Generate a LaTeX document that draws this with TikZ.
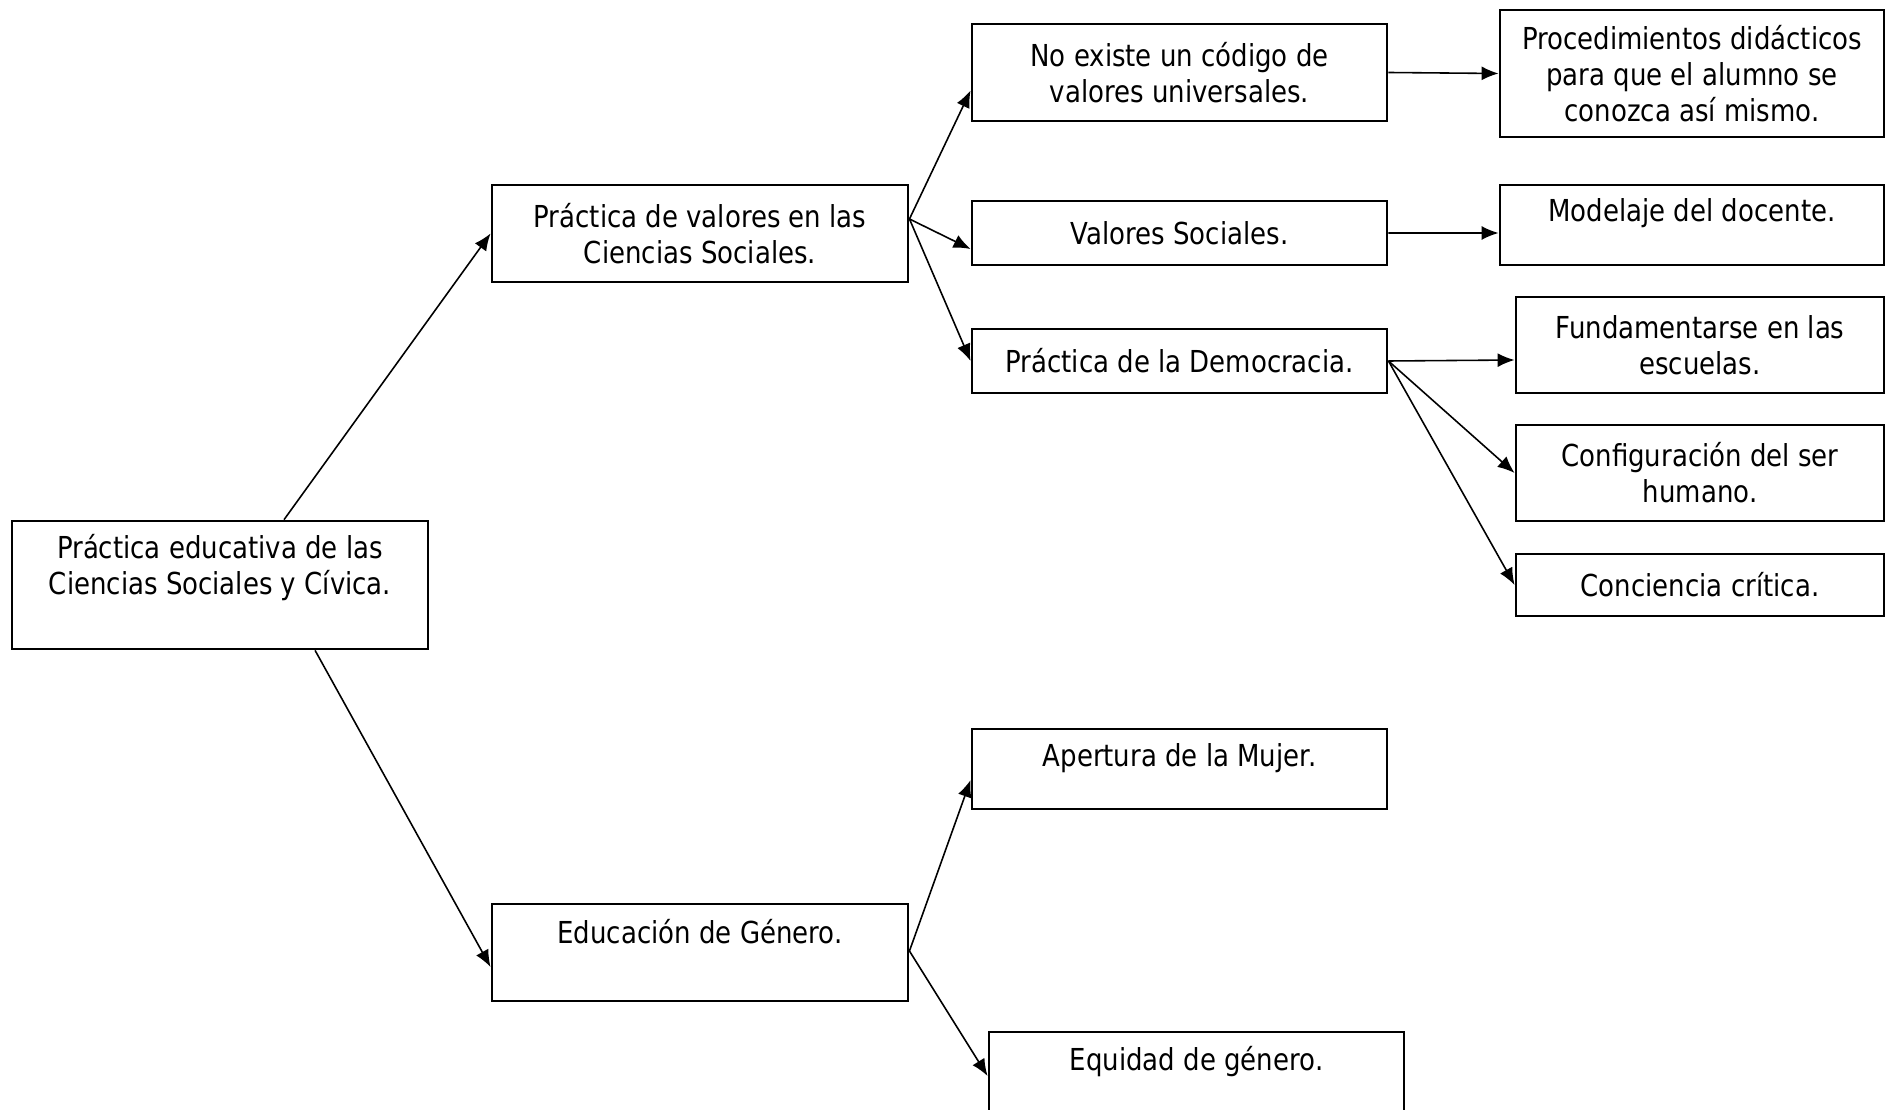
\documentclass[tikz,border=0pt]{standalone}
\usepackage{fontspec}
\setmainfont{DejaVu Sans}[FakeStretch=0.86]
\usepackage{tikz}
\usetikzlibrary{arrows.meta,positioning}
\tikzset{caja/.style={draw=black, line width=0.75pt, rectangle, align=center, inner sep=2pt,
                      font=\fontsize{8.6}{10.3}\selectfont},
         flecha/.style={line width=0.45pt, -{Latex[length=0.17cm,width=0.14cm]}},
         lift/.style={text depth=#1}}

\begin{document}
\begin{tikzpicture}[x=0.01cm,y=-0.01cm]
\useasboundingbox (0,0) rectangle (1895,1110);

\node[caja, minimum width=4.16cm, minimum height=1.28cm, lift=0.41cm] (raiz) at (220,585) {Práctica educativa de las\\Ciencias Sociales y Cívica.};

\node[caja, minimum width=4.16cm, minimum height=0.97cm] (valpr) at (700,233.5) {Práctica de valores en las\\Ciencias Sociales.};
\node[caja, minimum width=4.16cm, minimum height=0.97cm, lift=0.43cm] (genero) at (700,952.5) {Educación de Género.};

\node[caja, minimum width=4.15cm, minimum height=0.97cm] (nocod) at (1179.5,72.5) {No existe un código de\\valores universales.};
\node[caja, minimum width=4.15cm, minimum height=0.64cm] (valsoc) at (1179.5,233) {Valores Sociales.};
\node[caja, minimum width=4.15cm, minimum height=0.64cm] (demo) at (1179.5,361) {Práctica de la Democracia.};
\node[caja, minimum width=4.15cm, minimum height=0.80cm, lift=0.27cm] (apert) at (1179.5,769) {Apertura de la Mujer.};
\node[caja, minimum width=4.15cm, minimum height=0.80cm, lift=0.27cm] (equid) at (1196.5,1072) {Equidad de género.};

\node[caja, minimum width=3.84cm, minimum height=1.27cm] (proc) at (1692,73.5) {Procedimientos didácticos\\para que el alumno se\\conozca así mismo.};
\node[caja, minimum width=3.84cm, minimum height=0.80cm, lift=0.29cm] (model) at (1692,225) {Modelaje del docente.};
\node[caja, minimum width=3.68cm, minimum height=0.96cm] (fund) at (1700,345) {Fundamentarse en las\\escuelas.};
\node[caja, minimum width=3.68cm, minimum height=0.96cm] (config) at (1700,473) {Configuración del ser\\humano.};
\node[caja, minimum width=3.68cm, minimum height=0.62cm] (concie) at (1700,585) {Conciencia crítica.};

% ramas
\draw[flecha] ([xshift=0.64cm]raiz.north) -- (valpr.west);
\draw[flecha] ([xshift=0.95cm]raiz.south) -- ([yshift=-0.145cm]genero.west);

\draw[flecha] ([yshift=0.145cm]valpr.east) -- ([yshift=-0.18cm]nocod.west);
\draw[flecha] ([yshift=0.145cm]valpr.east) -- ([yshift=-0.16cm]valsoc.west);
\draw[flecha] ([yshift=0.145cm]valpr.east) -- (demo.west);

\draw[flecha] (nocod.east) -- (proc.west);
\draw[flecha] (valsoc.east) -- ([yshift=-0.08cm]model.west);

\draw[flecha] (demo.east) -- ([yshift=-0.15cm]fund.west);
\draw[flecha] (demo.east) -- (config.west);
\draw[flecha] (demo.east) -- (concie.west);

\draw[flecha] ([yshift=0.015cm]genero.east) -- ([yshift=-0.11cm]apert.west);
\draw[flecha] ([yshift=0.015cm]genero.east) -- ([yshift=-0.04cm]equid.west);
\end{tikzpicture}
\end{document}
